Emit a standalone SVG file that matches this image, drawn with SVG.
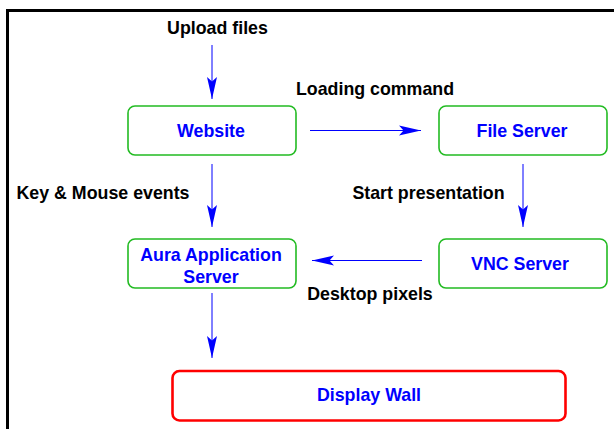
<svg xmlns="http://www.w3.org/2000/svg" width="614" height="429" viewBox="0 0 614 429">
  <style>
    .node { fill: #ffffff; stroke: #22bb22; stroke-width: 1.6; }
    .wall { fill: #ffffff; stroke: #ff0000; stroke-width: 2.6; }
    .ntext { font-family: "Liberation Sans", Arial, sans-serif; font-weight: bold; font-size: 17.8px; fill: #0000ff; text-anchor: middle; }
    .label { font-family: "Liberation Sans", Arial, sans-serif; font-weight: bold; font-size: 17.8px; fill: #000000; text-anchor: middle; }
    .edge { stroke: #0000ff; stroke-width: 1; fill: none; marker-end: url(#head); }
  </style>
  <defs>
    <marker id="head" markerUnits="userSpaceOnUse" viewBox="-23 -6 24 12" refX="0" refY="0" markerWidth="24" markerHeight="12" orient="auto">
      <path d="M0,0 L-22,-5 L-17.5,0 L-22,5 Z" fill="#0000ff"/>
    </marker>
  </defs>

  <rect width="614" height="429" fill="#ffffff"/>
  <!-- outer frame -->
  <rect x="7.5" y="10.5" width="700" height="500" fill="none" stroke="#000000" stroke-width="3"/>

  <g id="connectors">
    <line class="edge" x1="212" y1="45" x2="212" y2="99"/>
    <line class="edge" x1="310" y1="130.5" x2="421" y2="130.5"/>
    <line class="edge" x1="212" y1="164" x2="212" y2="227"/>
    <line class="edge" x1="523" y1="164" x2="523" y2="227"/>
    <line class="edge" x1="422" y1="260.5" x2="312" y2="260.5"/>
    <line class="edge" x1="212" y1="293" x2="212" y2="358"/>
  </g>

  <g id="labels">
    <text class="label" x="217.5" y="34">Upload files</text>
    <text class="label" x="375" y="95">Loading command</text>
    <text class="label" x="103" y="199">Key &amp; Mouse events</text>
    <text class="label" x="428.5" y="199">Start presentation</text>
    <text class="label" x="370" y="299.5">Desktop pixels</text>
  </g>

  <g id="website">
    <rect class="node" x="128" y="106" width="168" height="49" rx="7"/>
    <text class="ntext" x="211" y="136.5">Website</text>
  </g>
  <g id="file-server">
    <rect class="node" x="439" y="106" width="168" height="49" rx="7"/>
    <text class="ntext" x="522" y="137">File Server</text>
  </g>
  <g id="aura-application-server">
    <rect class="node" x="128" y="239" width="168" height="49" rx="7"/>
    <text class="ntext" x="211" y="261">Aura Application</text>
    <text class="ntext" x="211" y="283">Server</text>
  </g>
  <g id="vnc-server">
    <rect class="node" x="439" y="239" width="168" height="49" rx="7"/>
    <text class="ntext" x="520" y="270">VNC Server</text>
  </g>
  <g id="display-wall">
    <rect class="wall" x="172.5" y="371" width="393" height="49.5" rx="7"/>
    <text class="ntext" x="369" y="401">Display Wall</text>
  </g>
</svg>
